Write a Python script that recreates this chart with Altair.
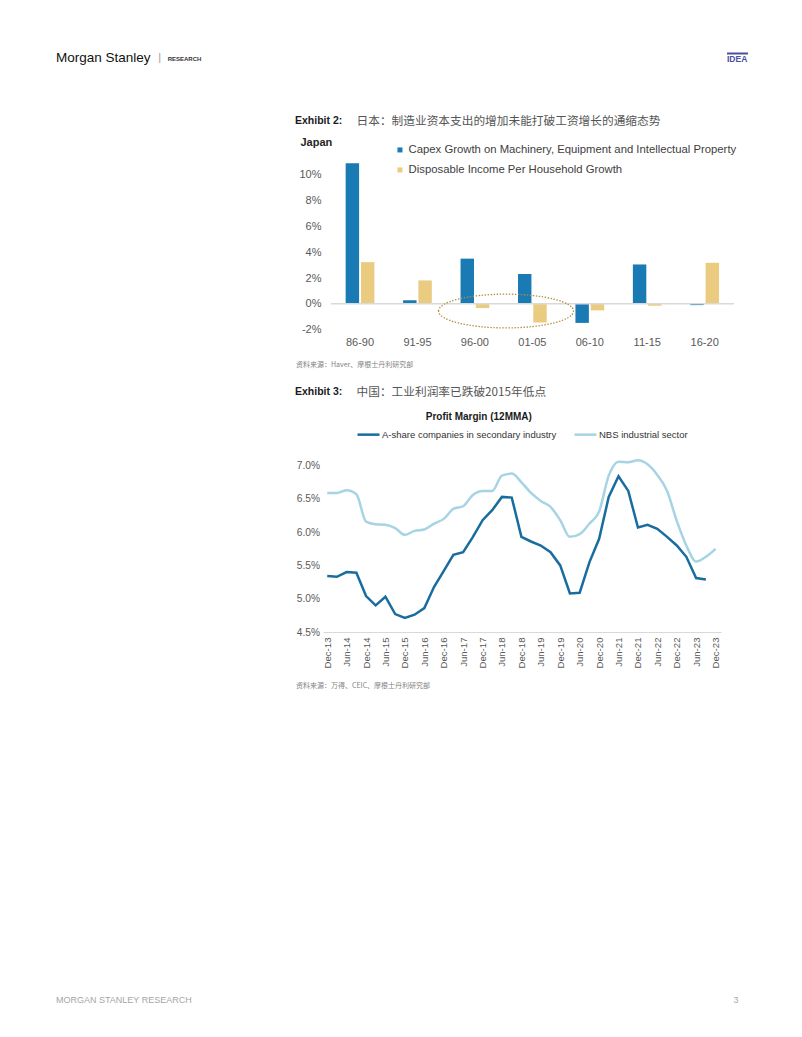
import altair as alt
import pandas as pd

FONT = "Liberation Sans"
CJK = "Noto Sans CJK SC"

# ---------------- Exhibit 2: Japan ----------------
periods = ["86-90", "91-95", "96-00", "01-05", "06-10", "11-15", "16-20"]
capex_growth = [10.9, 0.27, 3.50, 2.31, -1.48, 3.05, -0.10]
income_growth = [3.23, 1.81, -0.33, -1.45, -0.51, -0.15, 3.18]
series_japan = ["Capex Growth on Machinery, Equipment and Intellectual Property",
                "Disposable Income Per Household Growth"]
japan_ticks = [-2, 0, 2, 4, 6, 8, 10]
highlight_period = "96-00"
highlight_level = -0.56

# ---------------- Exhibit 3: China ----------------
series_china = ["A-share companies in secondary industry", "NBS industrial sector"]
a_share = [5.34, 5.33, 5.40, 5.39, 5.04, 4.90, 5.03, 4.77, 4.71, 4.76,
           4.86, 5.18, 5.42, 5.66, 5.70, 5.93, 6.18, 6.33, 6.53, 6.52,
           5.93, 5.86, 5.80, 5.70, 5.50, 5.08, 5.09, 5.55, 5.90, 6.53,
           6.84, 6.62, 6.07, 6.11, 6.05, 5.93, 5.80, 5.63, 5.31, 5.29]
nbs = [6.59, 6.59, 6.63, 6.57, 6.16, 6.12, 6.11, 6.06, 5.96, 6.02,
       6.04, 6.13, 6.20, 6.35, 6.39, 6.56, 6.62, 6.62, 6.85, 6.88,
       6.75, 6.59, 6.47, 6.38, 6.18, 5.93, 5.97, 6.13, 6.31, 6.85,
       7.06, 7.05, 7.08, 7.02, 6.86, 6.62, 6.17, 5.80, 5.56, 5.63, 5.75]
quarters = pd.date_range("2013-12-01", periods=41, freq="3MS").strftime("%Y-%m-%d").tolist()
tick_dates = pd.date_range("2013-12-01", "2023-12-01", freq="6MS")
china_ticks = [4.5, 5.0, 5.5, 6.0, 6.5, 7.0]

# ---------------- Page texts ----------------
brand = "Morgan Stanley"
brand_sub = "RESEARCH"
tag = "IDEA"
ex2_label = "Exhibit 2:"
ex2_title = "日本：制造业资本支出的增加未能打破工资增长的通缩态势"
ex2_source = "资料来源：Haver、摩根士丹利研究部"
ex3_label = "Exhibit 3:"
ex3_title = "中国：工业利润率已跌破2015年低点"
ex3_chart_title = "Profit Margin (12MMA)"
ex3_source = "资料来源：万得、CEIC、摩根士丹利研究部"
footer = "MORGAN STANLEY RESEARCH"
page_no = "3"

BLUE = "#1a7ab4"
TAN = "#ebcb80"
DARK = "#186d9e"
LIGHT = "#a6d4e4"
GREY = "#595959"

one = pd.DataFrame({"k": [0]})


def txt(text, x, y, size, color, weight="normal", font=FONT, align="left"):
    return alt.Chart(one).mark_text(
        text=text, fontSize=size, color=color, fontWeight=weight, font=font,
        align=align, baseline="middle"
    ).encode(x=alt.value(x), y=alt.value(y))


def anchor(x, y):
    return alt.Chart(one).mark_rule(color="#ffffff", strokeWidth=1).encode(
        x=alt.value(x), x2=alt.value(x + 1), y=alt.value(y), y2=alt.value(y))


# ---------------- Chart 1 ----------------
df1 = pd.DataFrame({
    "period": periods * 2,
    "series": [series_japan[0]] * len(periods) + [series_japan[1]] * len(periods),
    "value": capex_growth + income_growth,
})

x1_scale = alt.Scale(range=[8.3, 410.4], paddingInner=0.5, paddingOuter=0.25)
y1_scale = alt.Scale(domain=[-2, 12], nice=False)
x1_axis = alt.Axis(title=None, labelAngle=0, labelFont=FONT, labelFontSize=11,
                   labelColor=GREY, labelPadding=7, ticks=False, domain=False, grid=False)
y1_axis = alt.Axis(values=japan_ticks, labelExpr="datum.value + '%'", labelFont=FONT,
                   labelFontSize=11, labelColor=GREY, labelPadding=2, ticks=False,
                   labelOverlap=False, domain=False, grid=False,
                   title="Japan", titleAngle=0, titleAlign="left", titleBaseline="middle",
                   titleX=-23, titleY=-6.9, titleFont=FONT, titleFontSize=11,
                   titleFontWeight="bold", titleColor="#262626")

x1 = alt.X("period:N", sort=periods, scale=x1_scale, axis=x1_axis)
y1 = alt.Y("value:Q", scale=y1_scale, axis=y1_axis)

bars = alt.Chart(df1).mark_bar().encode(
    x=x1,
    xOffset=alt.XOffset("series:N", sort=series_japan,
                        scale=alt.Scale(paddingInner=0.12, paddingOuter=0)),
    y=y1,
    color=alt.Color("series:N", sort=series_japan,
                    scale=alt.Scale(domain=series_japan, range=[BLUE, TAN]),
                    legend=alt.Legend(title=None, orient="none", legendX=71.3, legendY=-4.7,
                                      direction="vertical", symbolType="square", symbolSize=25,
                                      symbolStrokeWidth=0, labelFont=FONT, labelFontSize=11.3,
                                      labelColor="#404040", labelOffset=3, rowPadding=8,
                                      labelLimit=500, padding=0)),
)

zero1 = alt.Chart(one).mark_rule(color="#d9d9d9", strokeWidth=1.5).encode(
    y=alt.YDatum(0, scale=y1_scale, axis=y1_axis), x=alt.value(8), x2=alt.value(411))

# dotted ellipse, path shifted so that its centre sits between the two periods
ELLIPSE = "M -0.539 0 A 1 0.25 0 1 1 1.461 0 A 1 0.25 0 1 1 -0.539 0 Z"
ellipse = alt.Chart(pd.DataFrame({"period": [highlight_period], "value": [highlight_level]})).mark_point(
    shape=ELLIPSE, size=18225, filled=False, stroke="#b08f3c", strokeWidth=1.3,
    strokeDash=[1.4, 1.6], opacity=1
).encode(x=x1, y=y1)

header_bar = alt.Chart(one).mark_rule(color="#4a4f9f", strokeWidth=2).encode(
    x=alt.value(404), x2=alt.value(425), y=alt.value(-95.5), y2=alt.value(-95.5))

chart1 = alt.layer(
    anchor(-314, -139.9),
    anchor(-314, 224.1),
    txt(brand, -267, -91, 13.5, "#111111"),
    txt("|", -163.3, -91, 11, "#9a9a9a", align="center"),
    txt(brand_sub, -155.3, -90.5, 6, "#333333", weight="bold"),
    txt(tag, 404, -90, 8.5, "#4a4f9f", weight="bold"),
    header_bar,
    txt(ex2_label, -28, -28.4, 10.5, "#1a1a1a", weight="bold"),
    txt(ex2_title, 33.5, -28.4, 11.7, "#555555", font=CJK),
    txt(ex2_source, -27, 215.8, 7, "#7f7f7f", font=CJK),
    bars,
    zero1,
    ellipse,
).properties(width=414, height=180.6)

# ---------------- Chart 2 ----------------
df2 = pd.DataFrame({
    "date": quarters[:len(a_share)] + quarters[:len(nbs)],
    "series": [series_china[0]] * len(a_share) + [series_china[1]] * len(nbs),
    "value": a_share + nbs,
})

x2 = alt.X("date:T",
           scale=alt.Scale(type="utc", domain=[alt.DateTime(year=2013, month=10, date=22, utc=True),
                                               alt.DateTime(year=2024, month=1, date=21, utc=True)]),
           axis=alt.Axis(values=[alt.DateTime(year=int(d.year), month=int(d.month), date=1, utc=True)
                                 for d in tick_dates],
                         format="%b-%y", labelAngle=270, labelFont=FONT, labelFontSize=9.6,
                         labelColor=GREY, labelPadding=5, ticks=False, grid=False,
                         labelOverlap=False, domain=True, domainColor="#d9d9d9",
                         domainWidth=1, title=None))
y2 = alt.Y("value:Q", scale=alt.Scale(domain=[4.5, 7.25], nice=False, zero=False),
           axis=alt.Axis(values=china_ticks, labelExpr="format(datum.value, '.1f') + '%'",
                         labelFont=FONT, labelFontSize=10.2, labelColor=GREY, labelPadding=3.5,
                         labelOverlap=False, ticks=False, domain=False, grid=False, title=None))
color2 = alt.Color("series:N", sort=series_china,
                   scale=alt.Scale(domain=series_china, range=[DARK, LIGHT]),
                   legend=alt.Legend(title=None, orient="none", legendX=33, legendY=-27.1,
                                     direction="horizontal", symbolType="stroke", symbolSize=484,
                                     symbolStrokeWidth=2.5, labelFont=FONT, labelFontSize=9.5,
                                     labelColor="#333333", labelOffset=1, columnPadding=12,
                                     labelLimit=500, padding=0))

line_nbs = alt.Chart(df2).transform_filter(
    alt.datum.series == series_china[1]
).mark_line(strokeWidth=2.5, interpolate="monotone").encode(x=x2, y=y2, color=color2)
line_a = alt.Chart(df2).transform_filter(
    alt.datum.series == series_china[0]
).mark_line(strokeWidth=2.5, interpolate="linear").encode(x=x2, y=y2, color=color2)

chart2 = alt.layer(
    anchor(-314, -73.7),
    txt(ex3_label, -28, -57, 10.5, "#1a1a1a", weight="bold"),
    txt(ex3_title, 33.5, -57, 11.7, "#555555", font=CJK),
    txt(ex3_chart_title, 155.8, -32.5, 10, "#1a1a1a", weight="bold", align="center"),
    line_nbs,
    line_a,
    txt(ex3_source, -27, 236.6, 7, "#7f7f7f", font=CJK),
    txt(footer, -267, 551.3, 9, "#a6a6a6"),
    txt(page_no, 413, 551.3, 9, "#a6a6a6", align="center"),
).properties(width=398, height=183)

chart = alt.vconcat(chart1, chart2, spacing=0).resolve_scale(
    color="independent"
).properties(padding=0).configure(font=FONT).configure_view(
    stroke="transparent", strokeWidth=0
)

chart.save("out.html", embed_options={"renderer": "svg", "actions": False})
